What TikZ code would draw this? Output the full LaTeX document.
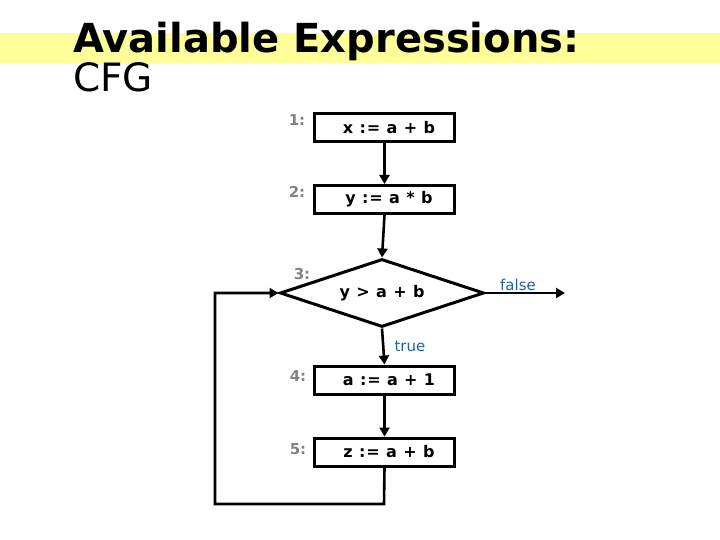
\documentclass[tikz,border=0pt]{standalone}
\usepackage{fontspec}
\setmainfont{DejaVu Sans}
\newfontfamily\dvs{DejaVu Sans}
\newfontfamily\codefont[LetterSpace=5]{DejaVu Sans}
\usetikzlibrary{arrows.meta,shapes.geometric}
\definecolor{bandyellow}{RGB}{255,255,153}
\definecolor{labgray}{RGB}{130,130,130}
\definecolor{condblue}{RGB}{30,100,160}
\newcommand{\shiftr}{\hspace*{9pt}}
\tikzset{
  stmt/.style={draw, line width=3pt, minimum width=140pt, minimum height=28pt, inner sep=0pt,
    font=\codefont\bfseries\fontsize{16}{18}\selectfont},
  cond/.style={draw, diamond, line width=3pt, aspect=2.9, minimum width=204pt, minimum height=68pt,
    inner sep=0pt, font=\codefont\bfseries\fontsize{16}{18}\selectfont},
  numlab/.style={text=labgray, inner sep=0pt, font=\dvs\bfseries\fontsize{15}{17}\selectfont},
  branchlab/.style={text=condblue, inner sep=0pt, font=\dvs\fontsize{15}{17}\selectfont},
  flow/.style={line width=2.6pt, -{Triangle[width=10pt,length=9pt]}},
}
\begin{document}
\begin{tikzpicture}[x=1pt,y=-1pt]
\useasboundingbox (0,0) rectangle (720,540);
\fill[bandyellow] (0,33) rectangle (720,63);
\node[anchor=base west, inner sep=0pt, font=\dvs\bfseries\fontsize{40}{44}\selectfont] (title) at (73,53) {Available Expressions:};
\node[anchor=base west, inner sep=0pt, font=\dvs\fontsize{39}{44}\selectfont] (sub) at (73,92) {CFG};

\node[stmt] (s1) at (384.5,127.5) {\shiftr x := a + b};
\node[stmt] (s2) at (384.5,199.5) {\shiftr y := a * b};
\node[cond] (s3) at (382,293) {y > a + b};
\node[stmt] (s4) at (384.5,380) {\shiftr a := a + 1};
\node[stmt] (s5) at (384.5,452) {\shiftr z := a + b};

\node[numlab] (l1) at (297,120) {1:};
\node[numlab] (l2) at (297,192) {2:};
\node[numlab] (l3) at (302,274) {3:};
\node[numlab] (l4) at (298,376) {4:};
\node[numlab] (l5) at (298,449) {5:};

\coordinate (fout) at (565,293);
\coordinate (lb) at (384,504);
\coordinate (ll) at (215,504);
\coordinate (lt) at (215,293);

\draw[flow] (s1.south) -- (s2.north);
\draw[flow] (s2.south) -- (s3.north);
\draw[flow] (s3.east) -- (fout);
\draw[flow] (s3.south) -- (s4.north);
\draw[flow] (s4.south) -- (s5.north);
\draw[flow] (s5.south) -- (lb) -- (ll) -- (lt) -- (s3.west);

\node[branchlab] (lf) at (518,285) {false};
\node[branchlab] (lt2) at (410,346) {true};
\end{tikzpicture}
\end{document}
